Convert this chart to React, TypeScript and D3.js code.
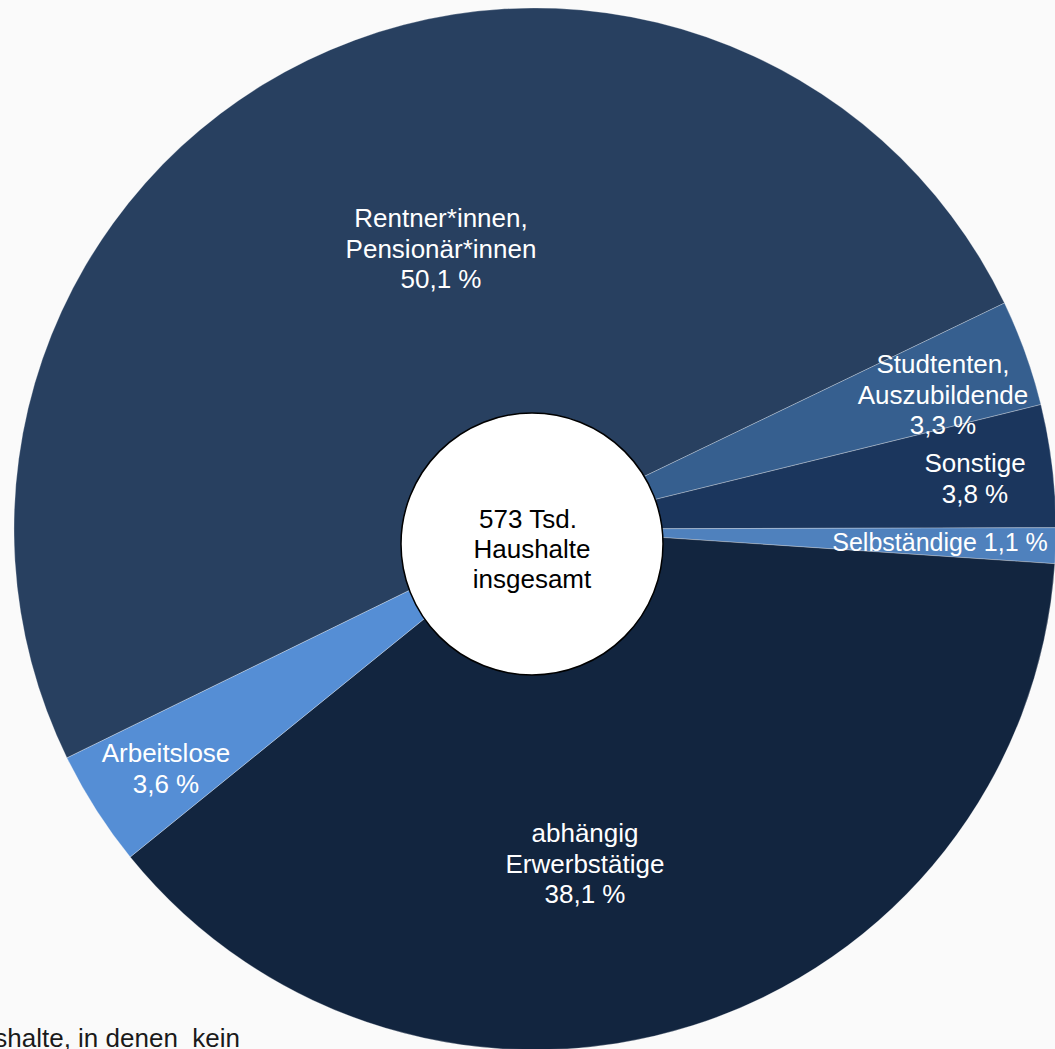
import React from "react";
import * as d3 from "d3";

const categories = [
  "Rentner*innen, Pensionär*innen",
  "Studtenten, Auszubildende",
  "Sonstige",
  "Selbständige",
  "abhängig Erwerbstätige",
  "Arbeitslose",
];
const values = [50.1, 3.3, 3.8, 1.1, 38.1, 3.6];
const labelLines = [
  ["Rentner*innen,", "Pensionär*innen", "50,1 %"],
  ["Studtenten,", "Auszubildende", "3,3 %"],
  ["Sonstige", "3,8 %"],
  ["Selbständige 1,1 %"],
  ["abhängig", "Erwerbstätige", "38,1 %"],
  ["Arbeitslose", "3,6 %"],
];
const colors = ["#284060", "#365f8f", "#1b365d", "#4f81bd", "#12253f", "#558ed5"];
const centerLines = ["573 Tsd.", "Haushalte", "insgesamt"];
const footnote = "Haushalte, in denen  kein";

// layout
const W = 1055;
const H = 1049;
const CX = 535;
const CY = 529;
const R = 521;
const START = (-116.06 * Math.PI) / 180;
const labelAnchors: [number, number][] = [
  [441, 227],
  [943, 373],
  [975, 472],
  [940, 551],
  [585, 842],
  [166, 762],
];
const labelSizes = [26, 26, 26, 25, 26, 26];
const LINE_H = 30.5;

export default function App() {
  const pie = d3
    .pie<number>()
    .sort(null)
    .value((d) => d)
    .startAngle(START)
    .endAngle(START + 2 * Math.PI);
  const arcs = pie(values);
  const arc = d3.arc<d3.PieArcDatum<number>>().innerRadius(0).outerRadius(R);

  return (
    <svg
      width={W}
      height={H}
      style={{ position: "absolute", left: 0, top: 0, display: "block" }}
      fontFamily="'Liberation Sans', Arial, sans-serif"
    >
      <rect x={0} y={0} width={W} height={H} fill="#fafafa" />
      <g transform={`translate(${CX},${CY})`}>
        {arcs.map((a, i) => (
          <path
            key={categories[i]}
            d={arc(a) || ""}
            fill={colors[i]}
            stroke="rgba(255,255,255,0.35)"
            strokeWidth={0.8}
          />
        ))}
      </g>
      {labelLines.map((lines, i) => (
        <text
          key={"l" + i}
          x={labelAnchors[i][0]}
          y={labelAnchors[i][1]}
          fill="#ffffff"
          fontSize={labelSizes[i]}
          textAnchor="middle"
        >
          {lines.map((t, j) => (
            <tspan key={j} x={labelAnchors[i][0]} dy={j === 0 ? 0 : LINE_H}>
              {t}
            </tspan>
          ))}
        </text>
      ))}
      <circle cx={532} cy={544} r={131} fill="#ffffff" stroke="#000000" strokeWidth={1.5} />
      <text x={531} y={528} fill="#000000" fontSize={26} textAnchor="middle">
        {centerLines.map((t, j) => (
          <tspan key={j} x={j === 0 ? 528 : 532} dy={j === 0 ? 0 : 30}>
            {t}
          </tspan>
        ))}
      </text>
      <text x={240} y={1047} fill="#1a1a1a" fontSize={26} textAnchor="end" style={{ whiteSpace: "pre" }}>
        {footnote}
      </text>
    </svg>
  );
}
